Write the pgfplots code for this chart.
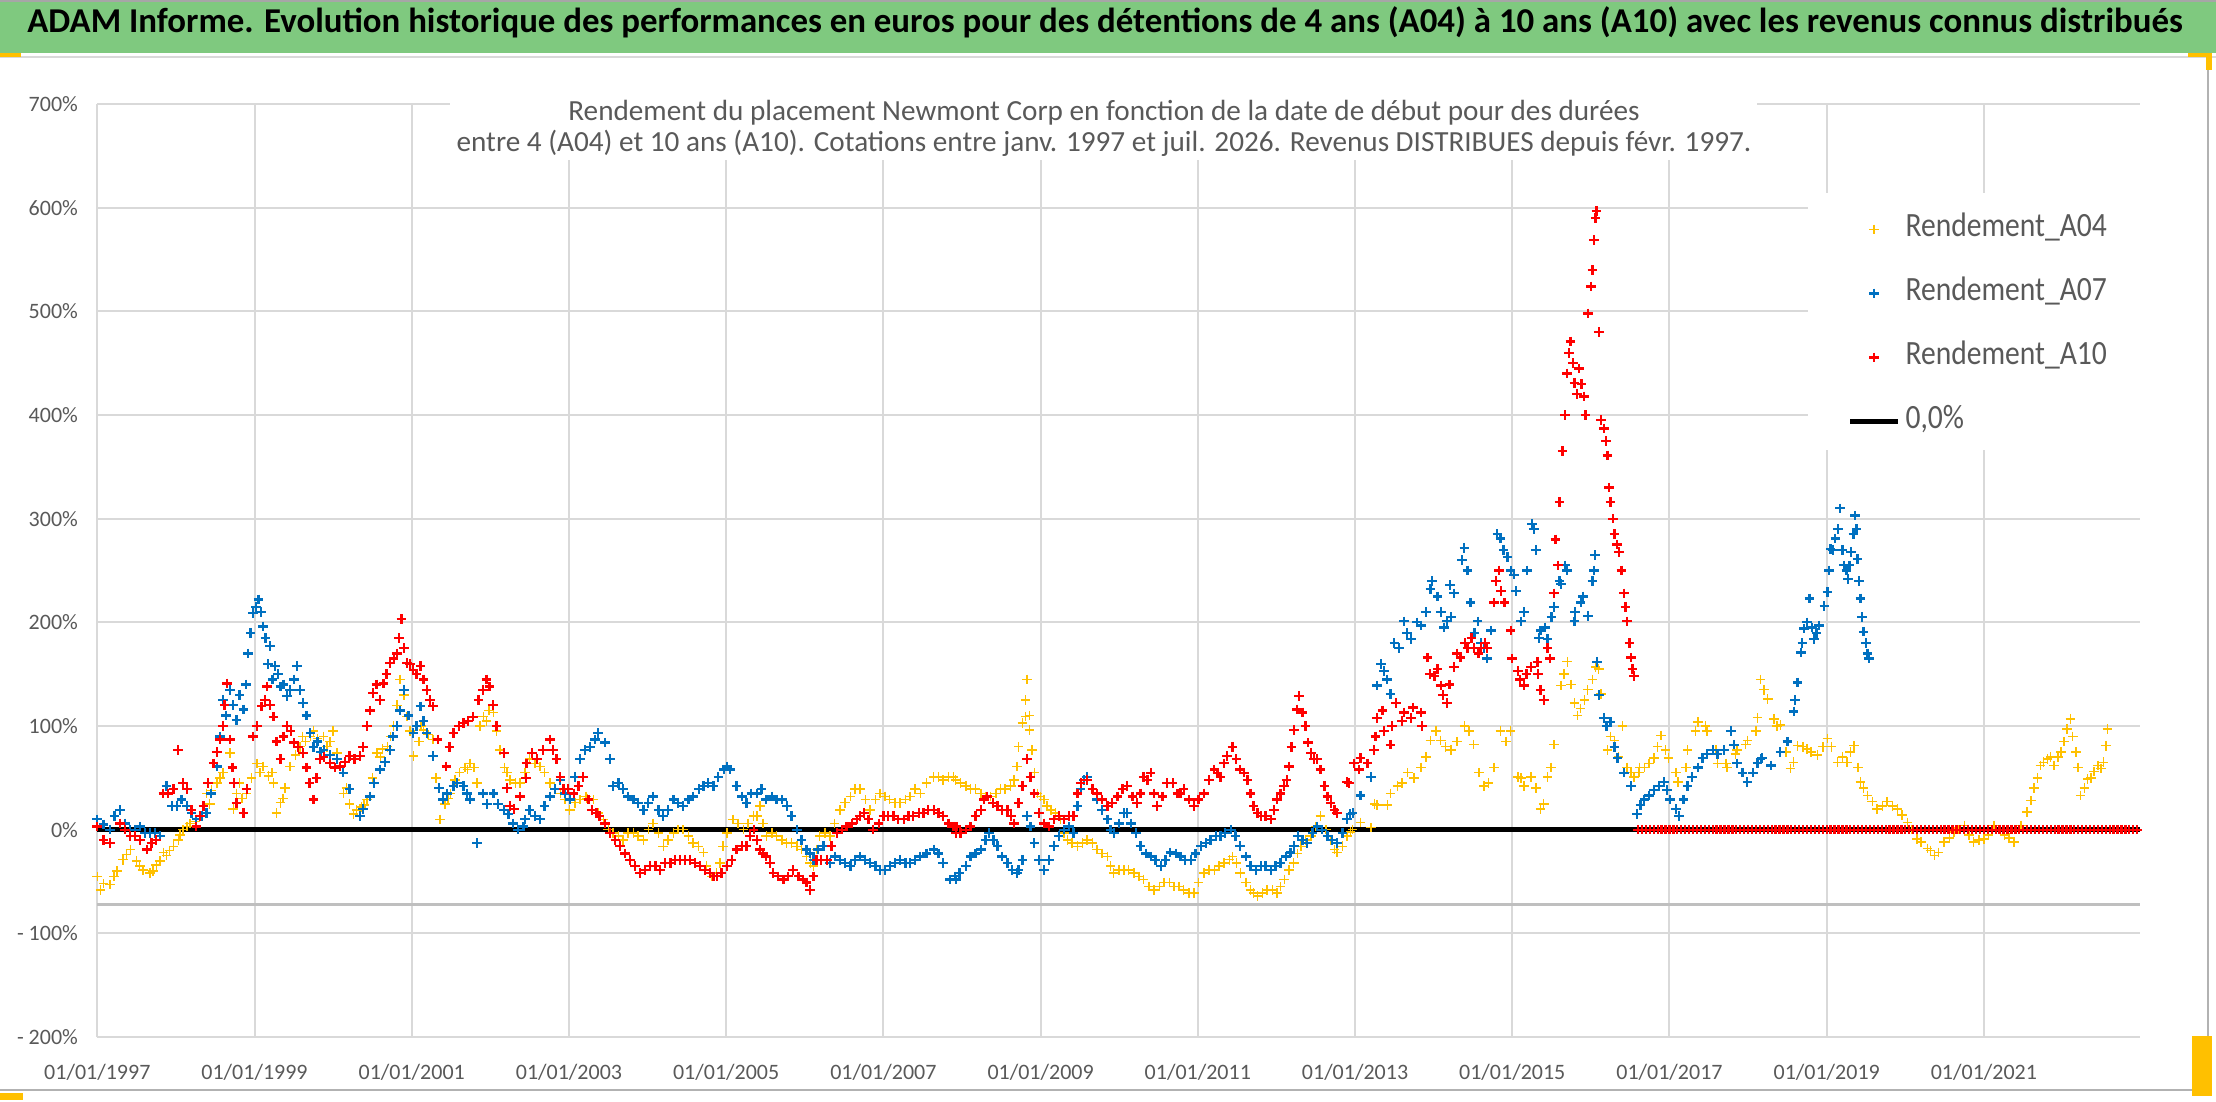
\documentclass[border=0pt]{standalone}
\usepackage{fontspec}
\setmainfont{Carlito}
\newfontfamily\legfont{Carlito}[FakeStretch=0.87]
\usepackage{pgfplots}
\pgfplotsset{compat=1.18}
\usepackage{pgfplotstable}
\definecolor{cA04}{HTML}{FFC000}
\definecolor{cA07}{HTML}{0070C0}
\definecolor{cA10}{HTML}{FF0000}
\definecolor{txtgray}{HTML}{595959}
\definecolor{gridgray}{HTML}{D9D9D9}
\definecolor{axgray}{HTML}{BFBFBF}
\definecolor{bandgreen}{HTML}{7FC97F}
\definecolor{handle}{HTML}{FFC000}

\pgfplotstableread{
x y
1997.00 -45
1997.04 -58
1997.08 -52
1997.16 -53
1997.21 -45
1997.25 -40
1997.33 -29
1997.37 -24
1997.42 -19
1997.50 -30
1997.54 -35
1997.58 -39
1997.67 -42
1997.71 -40
1997.75 -34
1997.80 -30
1997.84 -22
1997.88 -25
1997.92 -20
1997.97 -16
1998.03 -10
1998.05 -5
1998.09 0
1998.14 3
1998.18 6
1998.25 8
1998.31 13
1998.39 35
1998.43 25
1998.45 38
1998.52 45
1998.56 50
1998.60 55
1998.69 74
1998.73 20
1998.77 35
1998.81 45
1998.84 30
1998.90 35
1998.96 50
1999.03 64
1999.07 55
1999.11 61
1999.18 52
1999.22 55
1999.24 45
1999.28 16
1999.33 26
1999.36 30
1999.39 40
1999.45 61
1999.52 72
1999.58 80
1999.61 90
1999.65 85
1999.71 90
1999.75 95
1999.80 88
1999.88 90
1999.92 80
1999.96 85
2000.00 95
2000.05 74
2000.13 35
2000.17 40
2000.21 25
2000.26 15
2000.30 19
2000.36 22
2000.39 24
2000.43 29
2000.50 50
2000.56 74
2000.60 70
2000.63 78
2000.69 80
2000.73 90
2000.77 100
2000.81 120
2000.85 145
2000.90 130
2000.94 109
2000.98 95
2001.02 71
2001.09 85
2001.12 100
2001.15 96
2001.21 92
2001.27 87
2001.31 50
2001.36 10
2001.42 25
2001.46 30
2001.49 35
2001.55 48
2001.58 45
2001.61 55
2001.68 60
2001.71 58
2001.74 64
2001.79 60
2001.83 45
2001.87 100
2001.91 109
2001.95 105
2001.98 115
2002.04 113
2002.08 95
2002.12 77
2002.18 60
2002.21 55
2002.25 48
2002.32 45
2002.38 45
2002.44 55
2002.50 68
2002.57 64
2002.63 61
2002.69 55
2002.76 45
2002.82 39
2002.89 35
2002.95 29
2003.01 19
2003.08 26
2003.14 29
2003.22 32
2003.23 30
2003.31 29
2003.37 16
2003.44 10
2003.50 0
2003.56 -3
2003.63 -6
2003.69 -10
2003.75 -3
2003.82 -3
2003.88 -6
2003.95 -10
2004.01 0
2004.07 6
2004.14 -3
2004.20 -16
2004.26 -10
2004.33 -3
2004.39 0
2004.45 0
2004.52 -6
2004.58 -13
2004.65 -16
2004.71 -22
2004.75 -35
2004.82 -45
2004.88 -42
2004.92 -32
2004.96 -16
2005.01 -3
2005.09 10
2005.15 6
2005.22 0
2005.28 6
2005.35 13
2005.39 13
2005.43 23
2005.47 6
2005.51 -6
2005.58 -3
2005.64 -6
2005.71 -10
2005.77 -13
2005.83 -13
2005.90 -16
2005.96 -19
2006.02 -26
2006.07 -32
2006.11 -35
2006.15 -19
2006.19 -6
2006.26 -3
2006.32 -6
2006.38 6
2006.45 19
2006.51 26
2006.58 32
2006.64 39
2006.70 39
2006.77 29
2006.83 19
2006.90 29
2006.96 35
2007.02 32
2007.08 29
2007.15 26
2007.21 26
2007.28 29
2007.34 32
2007.40 39
2007.47 35
2007.55 45
2007.64 51
2007.70 51
2007.76 48
2007.83 51
2007.89 51
2007.92 48
2007.98 45
2008.05 42
2008.11 39
2008.17 39
2008.24 35
2008.30 32
2008.36 32
2008.43 35
2008.49 39
2008.55 39
2008.62 42
2008.66 48
2008.70 61
2008.72 80
2008.77 103
2008.81 109
2008.81 125
2008.83 145
2008.86 96
2008.86 110
2008.89 77
2008.92 55
2008.96 35
2009.00 32
2009.04 29
2009.08 23
2009.13 19
2009.19 16
2009.25 10
2009.30 -3
2009.34 -10
2009.40 -13
2009.47 -16
2009.53 -13
2009.59 -10
2009.66 -13
2009.72 -19
2009.78 -23
2009.85 -26
2009.89 -35
2009.93 -42
2010.00 -39
2010.06 -39
2010.12 -39
2010.19 -42
2010.25 -45
2010.31 -48
2010.38 -55
2010.44 -58
2010.51 -55
2010.57 -51
2010.64 -51
2010.70 -55
2010.76 -55
2010.82 -58
2010.89 -61
2010.95 -61
2011.01 -51
2011.08 -42
2011.14 -39
2011.21 -39
2011.27 -35
2011.33 -32
2011.40 -29
2011.44 -26
2011.49 -32
2011.54 -42
2011.61 -51
2011.67 -58
2011.71 -61
2011.76 -64
2011.82 -61
2011.88 -58
2011.95 -58
2012.01 -61
2012.05 -55
2012.10 -48
2012.16 -39
2012.22 -32
2012.27 -23
2012.31 -16
2012.37 -10
2012.44 -6
2012.50 3
2012.56 13
2012.63 0
2012.69 -10
2012.74 -19
2012.77 -22
2012.84 -16
2012.90 -6
2012.94 -2
2012.97 0
2013.07 7
2013.20 2
2013.25 25
2013.28 24
2013.41 24
2013.45 35
2013.54 42
2013.60 45
2013.67 55
2013.75 50
2013.84 60
2013.90 70
2013.96 86
2014.03 95
2014.09 86
2014.15 80
2014.22 77
2014.30 85
2014.39 100
2014.45 95
2014.51 82
2014.58 55
2014.64 42
2014.70 45
2014.77 60
2014.85 95
2014.92 85
2014.98 95
2015.07 51
2015.11 50
2015.15 42
2015.24 51
2015.30 40
2015.36 20
2015.40 25
2015.45 51
2015.49 60
2015.53 82
2015.62 139
2015.66 150
2015.70 162
2015.75 140
2015.79 122
2015.83 110
2015.87 117
2015.92 125
2015.96 135
2016.02 145
2016.06 157
2016.10 155
2016.13 131
2016.21 77
2016.25 90
2016.30 86
2016.35 70
2016.40 100
2016.46 60
2016.51 55
2016.55 51
2016.61 55
2016.62 60
2016.68 60
2016.74 64
2016.80 69
2016.85 80
2016.89 91
2016.95 77
2016.99 69
2017.08 55
2017.11 46
2017.21 60
2017.23 77
2017.33 95
2017.36 104
2017.46 100
2017.48 95
2017.59 77
2017.61 64
2017.72 64
2017.73 60
2017.84 73
2017.86 77
2017.97 82
2017.99 86
2018.10 95
2018.12 108
2018.16 145
2018.20 135
2018.25 126
2018.33 107
2018.37 100
2018.41 101
2018.48 75
2018.54 59
2018.58 65
2018.63 81
2018.70 80
2018.75 78
2018.80 75
2018.88 72
2018.95 80
2019.01 88
2019.06 80
2019.14 65
2019.20 70
2019.26 65
2019.30 75
2019.35 81
2019.40 60
2019.43 46
2019.47 40
2019.52 33
2019.58 27
2019.64 20
2019.71 23
2019.77 27
2019.84 23
2019.90 20
2019.96 14
2020.03 7
2020.08 0
2020.15 -9
2020.20 -12
2020.28 -18
2020.32 -20
2020.37 -25
2020.42 -22
2020.49 -12
2020.56 -8
2020.62 -2
2020.68 0
2020.75 4
2020.81 -5
2020.87 -12
2020.94 -10
2021.00 -9
2021.06 -5
2021.13 4
2021.20 0
2021.26 -5
2021.32 -8
2021.38 -12
2021.47 4
2021.55 17
2021.60 28
2021.64 40
2021.68 50
2021.72 62
2021.76 65
2021.81 68
2021.85 70
2021.89 62
2021.94 70
2021.98 75
2022.02 85
2022.06 97
2022.10 107
2022.13 90
2022.17 75
2022.20 60
2022.23 33
2022.28 40
2022.32 49
2022.36 50
2022.40 56
2022.45 62
2022.49 59
2022.52 65
2022.55 81
2022.57 97
}\tabA

\pgfplotstableread{
x y
1997.00 10
1997.08 5
1997.16 0
1997.22 13
1997.29 19
1997.35 6
1997.42 0
1997.48 0
1997.54 3
1997.61 -3
1997.67 -3
1997.73 -3
1997.80 -6
1997.88 42
1997.95 23
1998.01 23
1998.07 29
1998.14 23
1998.20 16
1998.26 10
1998.33 13
1998.39 16
1998.45 35
1998.52 61
1998.56 90
1998.60 125
1998.64 110
1998.69 135
1998.73 120
1998.77 106
1998.81 130
1998.86 116
1998.89 140
1998.92 170
1998.95 190
1998.98 209
1999.02 215
1999.05 222
1999.08 210
1999.11 196
1999.14 185
1999.17 160
1999.20 177
1999.23 145
1999.26 158
1999.30 150
1999.33 138
1999.37 140
1999.41 129
1999.45 135
1999.50 145
1999.54 158
1999.58 135
1999.62 122
1999.66 110
1999.71 93
1999.75 80
1999.80 85
1999.84 75
1999.88 77
1999.96 72
2000.05 68
2000.13 55
2000.21 39
2000.34 13
2000.38 20
2000.47 32
2000.52 45
2000.60 58
2000.66 65
2000.72 77
2000.76 90
2000.81 100
2000.85 115
2000.90 135
2000.96 110
2001.02 93
2001.06 100
2001.11 119
2001.15 105
2001.19 93
2001.27 71
2001.35 40
2001.40 29
2001.45 35
2001.53 42
2001.58 45
2001.66 42
2001.70 35
2001.74 29
2001.83 -13
2001.91 35
2001.96 25
2002.04 35
2002.10 25
2002.17 19
2002.23 15
2002.29 6
2002.35 0
2002.42 3
2002.44 10
2002.50 19
2002.57 13
2002.63 10
2002.69 23
2002.76 32
2002.82 39
2002.89 48
2002.95 35
2003.01 29
2003.08 51
2003.14 68
2003.20 77
2003.27 80
2003.33 87
2003.37 93
2003.46 84
2003.52 68
2003.56 42
2003.63 45
2003.69 39
2003.75 32
2003.82 29
2003.88 26
2003.95 19
2004.01 26
2004.07 32
2004.14 19
2004.20 13
2004.26 19
2004.33 29
2004.39 26
2004.45 23
2004.52 29
2004.58 32
2004.65 39
2004.71 42
2004.77 45
2004.84 42
2004.90 51
2004.97 58
2005.01 61
2005.05 58
2005.13 42
2005.20 32
2005.26 26
2005.32 35
2005.39 35
2005.45 39
2005.51 29
2005.58 32
2005.64 29
2005.71 29
2005.77 23
2005.83 13
2005.90 0
2005.96 -10
2006.02 -19
2006.07 -23
2006.11 -29
2006.17 -19
2006.24 -16
2006.32 -32
2006.38 -26
2006.45 -29
2006.51 -32
2006.58 -35
2006.64 -29
2006.70 -26
2006.77 -29
2006.83 -32
2006.90 -35
2006.96 -39
2007.02 -39
2007.08 -35
2007.15 -32
2007.21 -29
2007.28 -32
2007.34 -32
2007.40 -29
2007.47 -26
2007.55 -23
2007.64 -19
2007.70 -23
2007.76 -32
2007.85 -48
2007.91 -45
2007.92 -48
2007.97 -42
2008.05 -35
2008.11 -26
2008.17 -23
2008.24 -19
2008.30 -10
2008.34 -3
2008.40 -10
2008.45 -16
2008.51 -26
2008.58 -32
2008.64 -39
2008.70 -42
2008.72 -39
2008.77 -29
2008.83 13
2008.87 3
2008.92 -13
2008.98 -29
2009.04 -39
2009.11 -29
2009.17 -16
2009.23 -6
2009.30 0
2009.36 3
2009.42 -3
2009.47 23
2009.51 39
2009.55 48
2009.59 51
2009.66 39
2009.72 29
2009.78 19
2009.85 10
2009.89 0
2009.93 -3
2010.00 6
2010.06 16
2010.10 16
2010.15 6
2010.21 -3
2010.27 -16
2010.34 -23
2010.40 -26
2010.46 -29
2010.53 -35
2010.59 -29
2010.65 -22
2010.72 -23
2010.78 -26
2010.84 -29
2010.91 -29
2010.97 -23
2011.04 -16
2011.10 -13
2011.16 -10
2011.23 -6
2011.29 -6
2011.35 -3
2011.42 0
2011.48 -6
2011.54 -16
2011.61 -26
2011.67 -35
2011.74 -39
2011.80 -35
2011.86 -35
2011.93 -39
2011.99 -35
2012.05 -32
2012.12 -26
2012.18 -22
2012.22 -16
2012.27 -6
2012.33 -10
2012.39 -13
2012.46 -3
2012.52 3
2012.58 0
2012.65 -6
2012.71 -10
2012.77 -13
2012.84 -3
2012.90 10
2012.94 15
2012.97 16
2013.07 33
2013.20 51
2013.28 139
2013.33 160
2013.37 153
2013.41 145
2013.45 131
2013.50 180
2013.56 175
2013.62 201
2013.66 190
2013.71 184
2013.79 200
2013.84 197
2013.90 210
2013.96 232
2013.98 240
2014.05 225
2014.09 210
2014.13 195
2014.17 201
2014.21 236
2014.22 205
2014.26 228
2014.36 260
2014.39 272
2014.43 250
2014.47 219
2014.52 190
2014.56 201
2014.60 180
2014.64 175
2014.68 165
2014.73 192
2014.81 285
2014.85 281
2014.89 270
2014.94 263
2014.98 250
2015.02 246
2015.05 230
2015.11 201
2015.15 210
2015.19 250
2015.25 295
2015.28 290
2015.30 270
2015.34 185
2015.36 192
2015.42 195
2015.45 184
2015.50 205
2015.53 215
2015.60 240
2015.62 237
2015.67 255
2015.70 250
2015.79 201
2015.80 210
2015.87 219
2015.90 225
2015.96 206
2016.02 240
2016.04 250
2016.05 265
2016.08 162
2016.10 130
2016.17 108
2016.20 100
2016.25 104
2016.30 80
2016.34 69
2016.42 55
2016.51 42
2016.59 15
2016.63 24
2016.68 29
2016.74 33
2016.80 38
2016.87 42
2016.93 46
2016.97 38
2017.01 29
2017.08 20
2017.12 13
2017.18 29
2017.23 42
2017.29 51
2017.36 60
2017.42 69
2017.48 73
2017.55 77
2017.61 73
2017.69 77
2017.78 95
2017.82 82
2017.86 64
2017.93 55
2017.99 46
2018.06 55
2018.12 64
2018.16 68
2018.18 69
2018.29 62
2018.41 75
2018.50 85
2018.58 114
2018.60 125
2018.63 142
2018.67 171
2018.69 180
2018.71 194
2018.75 200
2018.78 223
2018.81 195
2018.84 184
2018.87 190
2018.90 197
2018.97 216
2019.01 229
2019.03 250
2019.05 271
2019.08 270
2019.11 281
2019.14 290
2019.17 310
2019.20 270
2019.22 255
2019.25 250
2019.27 242
2019.29 255
2019.31 268
2019.34 285
2019.36 303
2019.38 290
2019.39 261
2019.41 240
2019.43 223
2019.45 205
2019.47 191
2019.50 180
2019.52 170
2019.54 165
}\tabB

\pgfplotstableread{
x y
1997.00 3
1997.08 -10
1997.16 -13
1997.29 6
1997.35 0
1997.42 -6
1997.48 -6
1997.54 -10
1997.63 -19
1997.69 -13
1997.75 -10
1997.84 35
1997.90 35
1997.97 39
1998.03 77
1998.09 45
1998.14 39
1998.20 19
1998.26 3
1998.31 13
1998.35 23
1998.41 45
1998.48 64
1998.52 75
1998.56 87
1998.60 100
1998.62 120
1998.65 141
1998.69 87
1998.72 60
1998.74 45
1998.77 26
1998.86 16
1998.90 39
1998.98 90
1999.03 100
1999.09 119
1999.13 125
1999.16 138
1999.20 120
1999.24 109
1999.28 85
1999.33 68
1999.37 90
1999.41 100
1999.46 95
1999.50 84
1999.55 80
1999.62 74
1999.66 60
1999.70 45
1999.75 29
1999.79 50
1999.83 68
1999.88 70
1999.96 64
2000.02 60
2000.09 61
2000.15 65
2000.21 71
2000.27 68
2000.34 71
2000.38 80
2000.43 100
2000.47 115
2000.51 132
2000.55 140
2000.60 125
2000.64 141
2000.68 150
2000.72 161
2000.77 165
2000.81 170
2000.84 185
2000.87 203
2000.90 175
2000.94 161
2000.98 160
2001.02 154
2001.06 150
2001.11 158
2001.15 145
2001.19 135
2001.23 125
2001.27 119
2001.33 87
2001.44 61
2001.48 80
2001.53 93
2001.60 100
2001.66 103
2001.72 105
2001.78 109
2001.85 125
2001.91 135
2001.95 145
2001.99 138
2002.03 120
2002.08 100
2002.17 74
2002.21 40
2002.25 23
2002.30 20
2002.38 32
2002.45 50
2002.46 64
2002.53 74
2002.59 68
2002.67 77
2002.76 87
2002.80 77
2002.84 68
2002.89 51
2002.93 39
2002.99 39
2003.06 35
2003.12 42
2003.18 51
2003.25 29
2003.29 19
2003.35 16
2003.39 13
2003.46 6
2003.52 -3
2003.59 -10
2003.65 -16
2003.71 -23
2003.78 -29
2003.84 -35
2003.90 -42
2003.97 -39
2004.03 -35
2004.10 -35
2004.16 -39
2004.22 -32
2004.29 -32
2004.35 -29
2004.41 -29
2004.48 -29
2004.54 -29
2004.60 -32
2004.67 -35
2004.73 -39
2004.79 -42
2004.84 -45
2004.88 -45
2004.94 -42
2005.01 -35
2005.07 -29
2005.13 -19
2005.20 -16
2005.26 -16
2005.30 -6
2005.35 0
2005.39 -10
2005.43 -19
2005.47 -23
2005.51 -26
2005.56 -32
2005.60 -42
2005.66 -45
2005.73 -48
2005.79 -45
2005.85 -39
2005.92 -45
2005.98 -48
2006.02 -51
2006.07 -58
2006.11 -45
2006.15 -29
2006.21 -29
2006.28 -29
2006.34 -16
2006.41 -3
2006.47 0
2006.53 3
2006.60 6
2006.66 10
2006.70 13
2006.75 16
2006.81 10
2006.87 0
2006.94 6
2007.00 13
2007.06 13
2007.13 13
2007.19 10
2007.26 10
2007.32 13
2007.38 13
2007.45 16
2007.51 16
2007.57 19
2007.64 19
2007.70 16
2007.76 13
2007.83 6
2007.89 3
2007.92 -3
2007.93 3
2007.98 -3
2008.05 0
2008.11 3
2008.17 13
2008.24 19
2008.28 29
2008.32 32
2008.39 26
2008.45 23
2008.51 19
2008.58 19
2008.62 13
2008.66 6
2008.72 26
2008.77 42
2008.83 68
2008.87 51
2008.92 35
2008.98 16
2009.04 6
2009.11 3
2009.17 10
2009.23 13
2009.30 10
2009.36 13
2009.42 13
2009.47 35
2009.51 45
2009.59 48
2009.66 39
2009.72 35
2009.78 29
2009.85 23
2009.91 26
2009.98 32
2010.04 39
2010.10 42
2010.17 32
2010.23 26
2010.27 35
2010.31 51
2010.36 48
2010.40 55
2010.44 35
2010.48 23
2010.55 32
2010.61 45
2010.68 45
2010.74 35
2010.78 35
2010.82 39
2010.89 29
2010.95 23
2011.01 29
2011.08 35
2011.14 48
2011.21 58
2011.25 55
2011.29 51
2011.33 64
2011.37 71
2011.44 80
2011.49 68
2011.54 58
2011.59 55
2011.63 48
2011.67 35
2011.71 23
2011.76 16
2011.80 13
2011.86 13
2011.93 10
2011.97 19
2012.01 29
2012.05 35
2012.10 42
2012.13 48
2012.16 61
2012.19 80
2012.22 96
2012.26 116
2012.29 129
2012.33 113
2012.37 100
2012.40 84
2012.44 74
2012.48 68
2012.52 68
2012.56 58
2012.61 42
2012.65 32
2012.69 26
2012.74 19
2012.77 16
2012.90 46
2012.92 45
2012.99 64
2013.05 58
2013.07 69
2013.16 64
2013.24 77
2013.26 90
2013.28 108
2013.35 115
2013.37 95
2013.45 82
2013.47 100
2013.52 122
2013.60 105
2013.62 113
2013.71 108
2013.74 118
2013.84 113
2013.85 100
2013.92 166
2013.95 150
2014.01 148
2014.05 155
2014.09 139
2014.12 130
2014.17 122
2014.20 140
2014.26 157
2014.30 170
2014.34 166
2014.40 180
2014.43 175
2014.48 185
2014.51 175
2014.57 170
2014.60 175
2014.65 180
2014.68 175
2014.77 219
2014.79 240
2014.83 250
2014.86 230
2014.90 219
2014.98 192
2015.00 165
2015.07 153
2015.10 145
2015.15 139
2015.18 150
2015.24 157
2015.32 162
2015.33 150
2015.36 135
2015.40 125
2015.45 175
2015.48 165
2015.53 228
2015.55 280
2015.58 255
2015.60 316
2015.64 365
2015.67 400
2015.70 440
2015.72 460
2015.74 471
2015.77 450
2015.79 431
2015.82 420
2015.85 445
2015.88 430
2015.91 418
2015.93 400
2015.96 498
2016.00 524
2016.02 540
2016.04 569
2016.06 590
2016.07 597
2016.10 480
2016.13 395
2016.17 387
2016.19 375
2016.21 361
2016.23 330
2016.25 316
2016.28 300
2016.30 285
2016.33 275
2016.36 268
2016.39 250
2016.42 228
2016.44 215
2016.46 201
2016.49 180
2016.51 166
2016.53 155
2016.55 148
}\tabC

\begin{document}
\begin{tikzpicture}[x=1pt,y=1pt]
\path[use as bounding box] (0,0) rectangle (1108,-551);
\fill[bandgreen] (0,0) rectangle (1108,-26.5);
\draw[gray!70, line width=0.8pt] (0,-0.4) -- (1108,-0.4);
\draw[gridgray, line width=1pt] (0,-28.5) -- (1108,-28.5);
\begin{axis}[
  at={(48.65pt,-518.5pt)}, anchor=south west,
  width=1021.1pt, height=466.5pt, scale only axis,
  xmin=1997, xmax=2022.98, ymin=-200, ymax=700,
  clip=false,
  axis line style={draw=none},
  major tick length=0pt,
  grid=major,
  major grid style={draw=gridgray, line width=1pt},
  xtick={1997,1999,2001,2003,2005,2007,2009,2011,2013,2015,2017,2019,2021},
  xticklabels={01/01/1997,01/01/1999,01/01/2001,01/01/2003,01/01/2005,01/01/2007,01/01/2009,01/01/2011,01/01/2013,01/01/2015,01/01/2017,01/01/2019,01/01/2021},
  ytick={-200,-100,0,100,200,300,400,500,600,700},
  yticklabels={- 200\%,- 100\%,0\%,100\%,200\%,300\%,400\%,500\%,600\%,700\%},
  /pgf/number format/assume math mode=true,
  ticklabel style={font=\fontsize{11}{13}\selectfont, text=txtgray, inner sep=0pt},
  xticklabel style={anchor=center, yshift=-17.5pt},
  yticklabel style={anchor=east, xshift=-9.5pt},
  legend cell align=left,
  legend style={at={(0.8568,0.880)}, anchor=north west, draw=none, fill=none,
    inner sep=0pt, font=\legfont\fontsize{17}{19}\selectfont, text=txtgray,
    row sep=19pt, nodes={inner sep=0pt, text height=10pt, text depth=3pt},
    /tikz/every odd column/.append style={column sep=2.5pt}},
  legend image code/.code={\draw[mark repeat=2,mark phase=2] plot coordinates {(0pt,0pt) (12pt,0pt) (24pt,0pt)};},
]
% white boxes of title and legend
\fill[white] (rel axis cs:0.1727,1.04) rectangle (rel axis cs:0.8127,0.9400);
\fill[white] (rel axis cs:0.8377,0.9046) rectangle (rel axis cs:1.003,0.6292);
% horizontal category axis line
\draw[axgray, line width=1.3pt] (axis cs:1997,-72.3) -- (axis cs:2022.98,-72.3);
% zero line
\addplot[black, line width=2.5pt, forget plot] coordinates {(1997,0) (2022.98,0)};
\addplot[only marks, mark=+, mark size=2.4pt, color=cA04, mark options={line width=0.75pt}] table {\tabA};
\addlegendentry{Rendement\_A04}
\addplot[only marks, mark=+, mark size=2.4pt, color=cA07, mark options={line width=1.15pt}] table {\tabB};
\addlegendentry{Rendement\_A07}
\addplot[only marks, mark=+, mark size=2.4pt, color=cA10, mark options={line width=1.15pt}] table {\tabC};
\addlegendentry{Rendement\_A10}
\addplot[only marks, mark=+, mark size=2.4pt, color=cA10, mark options={line width=1.15pt}, forget plot] coordinates {
(2016.60,0)(2016.65,0)(2016.70,0)(2016.75,0)(2016.80,0)(2016.85,0)(2016.90,0)(2016.95,0)
(2017.00,0)(2017.05,0)(2017.10,0)(2017.15,0)(2017.20,0)(2017.25,0)(2017.30,0)(2017.35,0)(2017.40,0)(2017.45,0)
(2017.50,0)(2017.55,0)(2017.60,0)(2017.65,0)(2017.70,0)(2017.75,0)(2017.80,0)(2017.85,0)(2017.90,0)(2017.95,0)
(2018.00,0)(2018.05,0)(2018.10,0)(2018.15,0)(2018.20,0)(2018.25,0)(2018.30,0)(2018.35,0)(2018.40,0)(2018.45,0)
(2018.50,0)(2018.55,0)(2018.60,0)(2018.65,0)(2018.70,0)(2018.75,0)(2018.80,0)(2018.85,0)(2018.90,0)(2018.95,0)
(2019.00,0)(2019.05,0)(2019.10,0)(2019.15,0)(2019.20,0)(2019.25,0)(2019.30,0)(2019.35,0)(2019.40,0)(2019.45,0)
(2019.50,0)(2019.55,0)(2019.60,0)(2019.65,0)(2019.70,0)(2019.75,0)(2019.80,0)(2019.85,0)(2019.90,0)(2019.95,0)
(2020.00,0)(2020.05,0)(2020.10,0)(2020.15,0)(2020.20,0)(2020.25,0)(2020.30,0)(2020.35,0)(2020.40,0)(2020.45,0)
(2020.50,0)(2020.55,0)(2020.60,0)(2020.65,0)(2020.70,0)(2020.75,0)(2020.80,0)(2020.85,0)(2020.90,0)(2020.95,0)
(2021.00,0)(2021.05,0)(2021.10,0)(2021.15,0)(2021.20,0)(2021.25,0)(2021.30,0)(2021.35,0)(2021.40,0)(2021.45,0)
(2021.50,0)(2021.55,0)(2021.60,0)(2021.65,0)(2021.70,0)(2021.75,0)(2021.80,0)(2021.85,0)(2021.90,0)(2021.95,0)
(2022.00,0)(2022.05,0)(2022.10,0)(2022.15,0)(2022.20,0)(2022.25,0)(2022.30,0)(2022.35,0)(2022.40,0)(2022.45,0)
(2022.50,0)(2022.55,0)(2022.60,0)(2022.65,0)(2022.70,0)(2022.75,0)(2022.80,0)(2022.85,0)(2022.90,0)(2022.95,0)
};
\addlegendimage{black, line width=2.5pt}
\addlegendentry{0,0\%}
\end{axis}
% title band text
\node[anchor=base, inner sep=0pt] at (552.5,-16.5) {\resizebox{1077.5pt}{!}{\bfseries ADAM Informe. Evolution historique des performances en euros pour des détentions de 4 ans (A04) à 10 ans (A10) avec les revenus connus distribués}};
% subtitle
\node[anchor=base, inner sep=0pt, text=txtgray, font=\fontsize{14.6}{17}\selectfont] at (552,-60.3) {Rendement du placement Newmont Corp en fonction de la date de début pour des durées};
\node[anchor=base, inner sep=0pt, text=txtgray, font=\fontsize{14.6}{17}\selectfont] at (552,-75.8) {entre 4 (A04) et 10 ans (A10). Cotations entre janv. 1997 et juil. 2026. Revenus DISTRIBUES depuis févr. 1997.};
% chart area border and selection handles
\draw[gray!60, line width=0.7pt] (1104,-28) -- (1104,-545) -- (0,-545);
\fill[handle] (0,-26.5) rectangle (10.5,-28.5);
\fill[handle] (1094,-26.5) rectangle (1106,-28.5);
\fill[handle] (1103,-26.5) rectangle (1106,-35);
\fill[handle] (1096,-518) rectangle (1106,-548);
\fill[handle] (0,-546.5) rectangle (11.5,-550);
\end{tikzpicture}
\end{document}
